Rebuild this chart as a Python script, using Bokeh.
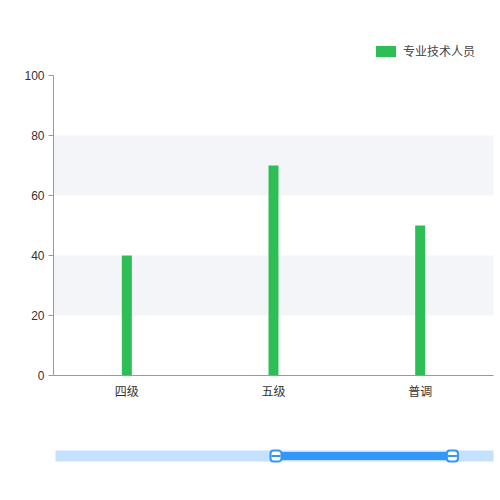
from bokeh.plotting import figure
from bokeh.models import Legend, LegendItem, BoxAnnotation, FixedTicker, Range1d, ColumnDataSource
from bokeh.layouts import column
from bokeh.embed import file_html
from bokeh.resources import INLINE
from bokeh.core.properties import value

# ---- data ----
categories = ["四级", "五级", "普调"]
values = [40, 70, 50]
series_name = "专业技术人员"
y_ticks = [0, 20, 40, 60, 80, 100]
band_bottoms = [20, 60]
band_tops = [40, 80]
zoom_start = 50
zoom_end = 90

# ---- styles ----
BAR = "#2dbf55"
BAND = "#f4f5f9"
AXIS = "#9a9a9a"
TEXT = "#333333"
TRACK = "#c6e1fe"
DARK = "#3296fa"
CJK = "Noto Sans CJK SC"
LATIN = "Liberation Sans"

src = ColumnDataSource(dict(cat=categories, val=values))

# ---- legend strip on top ----
top = figure(x_range=categories, y_range=Range1d(0, 100), width=496, height=65,
             output_backend="svg", toolbar_location=None,
             min_border_left=53, min_border_right=3, min_border_top=0, min_border_bottom=0)
top.axis.visible = False
top.grid.grid_line_color = None
top.outline_line_color = None
top.border_fill_color = "white"
lr = top.vbar(x="cat", top="val", width=0.068, source=src, fill_color=BAR, line_color=None)
lr.visible = False
legend = Legend(items=[LegendItem(label=value(series_name), renderers=[lr])],
                location=(320, 6), orientation="horizontal",
                padding=0, margin=0, spacing=0,
                glyph_width=25, glyph_height=14, label_height=14, label_standoff=5,
                label_text_font=CJK, label_text_font_size="12px", label_text_color="#444444",
                background_fill_alpha=0, border_line_color=None,
                inactive_fill_alpha=0, click_policy="none")
top.add_layout(legend)

# ---- main chart ----
p = figure(x_range=categories, y_range=Range1d(0, 100), width=496, height=343,
           output_backend="svg", toolbar_location=None,
           min_border_left=53, min_border_right=3, min_border_top=10, min_border_bottom=33)
p.outline_line_color = None
p.xgrid.grid_line_color = None
p.ygrid.grid_line_color = None
p.background_fill_color = "white"
p.border_fill_color = "white"

for b, t in zip(band_bottoms, band_tops):
    p.add_layout(BoxAnnotation(bottom=b, top=t, fill_color=BAND, fill_alpha=1,
                               line_color=None, level="underlay"))

r = p.vbar(x="cat", top="val", width=0.068, source=src, fill_color=BAR, line_color=None)

p.yaxis.ticker = FixedTicker(ticks=y_ticks)
p.yaxis.axis_line_color = AXIS
p.yaxis.major_tick_line_color = AXIS
p.yaxis.major_tick_out = 5
p.yaxis.major_tick_in = 0
p.yaxis.minor_tick_line_color = None
p.yaxis.major_label_text_font = LATIN
p.yaxis.major_label_text_font_size = "12px"
p.yaxis.major_label_text_color = TEXT
p.yaxis.major_label_standoff = 4

p.xaxis.axis_line_color = AXIS
p.xaxis.major_tick_line_color = None
p.xaxis.major_tick_out = 0
p.xaxis.major_tick_in = 0
p.xaxis.minor_tick_line_color = None
p.xaxis.major_label_text_font = CJK
p.xaxis.major_label_text_font_size = "12px"
p.xaxis.major_label_text_color = TEXT
p.xaxis.major_label_standoff = 6

# ---- data zoom slider ----
s = figure(width=496, height=84, x_range=Range1d(-0.45, 99.32), y_range=Range1d(0, 1),
           output_backend="svg", toolbar_location=None,
           min_border_left=53, min_border_right=3, min_border_top=38, min_border_bottom=27)
s.axis.visible = False
s.grid.grid_line_color = None
s.outline_line_color = None
s.border_fill_color = "white"

s.rect(x=[50], y=[0.5], width=[100], height=11, height_units="screen",
       fill_color=TRACK, line_color=None)
s.rect(x=[(zoom_start + zoom_end) / 2], y=[0.5], width=[zoom_end - zoom_start], height=8,
       height_units="screen", fill_color=DARK, line_color=None)
s.rect(x=[zoom_start, zoom_end], y=[0.5, 0.5], width=11, height=11,
       width_units="screen", height_units="screen",
       fill_color="white", line_color=DARK, line_width=2, border_radius=3)
s.rect(x=[zoom_start, zoom_end], y=[0.5, 0.5], width=9, height=2,
       width_units="screen", height_units="screen",
       fill_color=DARK, line_color=None)

layout = column(top, p, s, spacing=0)
open("out.html", "w").write(file_html(layout, INLINE))
